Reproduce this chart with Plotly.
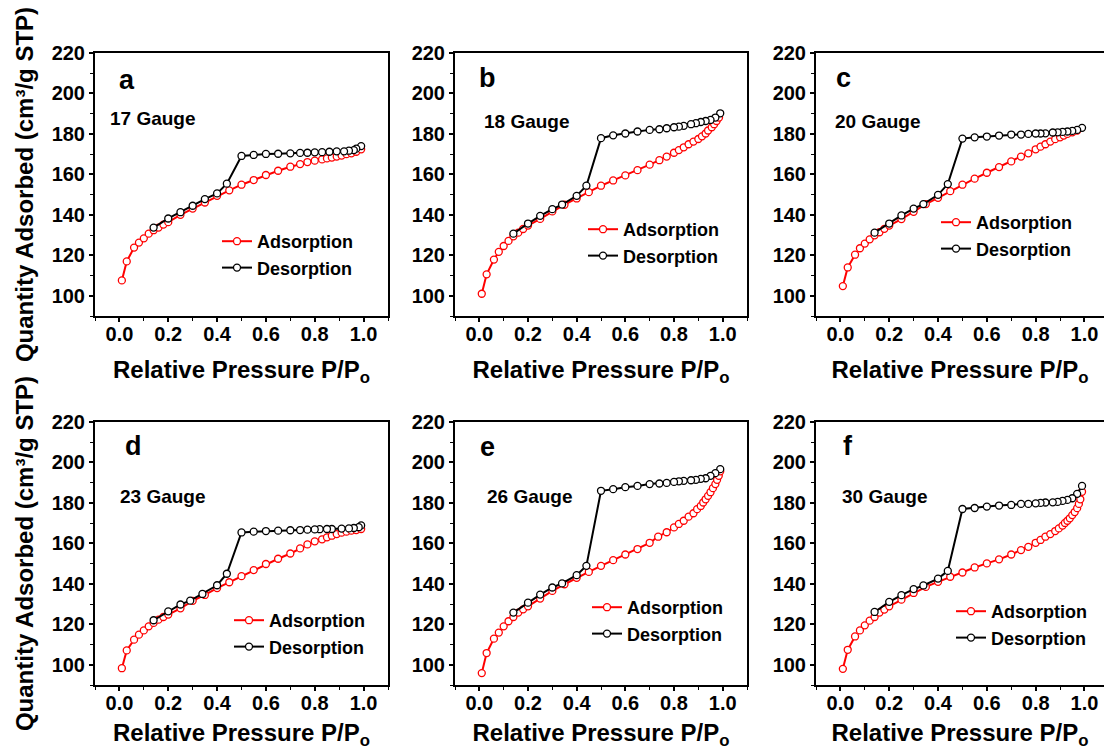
import plotly.graph_objects as go

# ---------------- data ----------------
panel_letters = ["a", "b", "c", "d", "e", "f"]
gauge_labels = ["17 Gauge", "18 Gauge", "20 Gauge", "23 Gauge", "26 Gauge", "30 Gauge"]
series_names = ["Adsorption", "Desorption"]

x_ticks = [0.0, 0.2, 0.4, 0.6, 0.8, 1.0]
y_ticks = [100, 120, 140, 160, 180, 200, 220]

ads_x_a = [0.01, 0.03, 0.06, 0.08, 0.10, 0.12, 0.14, 0.16, 0.18, 0.20, 0.25, 0.30, 0.35, 0.40, 0.45, 0.50,
           0.55, 0.60, 0.65, 0.70, 0.74, 0.77, 0.80, 0.83, 0.85, 0.87, 0.89, 0.91, 0.93, 0.95, 0.97, 0.99]
ads_y_a = [107.6, 117.0, 123.8, 126.3, 128.4, 130.7, 132.4, 133.7, 135.2, 136.4, 140.0, 143.1, 146.1, 149.4,
           152.1, 154.9, 157.2, 159.7, 161.8, 163.8, 165.1, 166.1, 166.8, 167.4, 167.9, 168.3, 168.8, 169.3,
           170.0, 170.4, 171.2, 172.4]
des_x_a = [0.99, 0.97, 0.96, 0.94, 0.92, 0.89, 0.86, 0.83, 0.80, 0.77, 0.74, 0.70, 0.65, 0.60, 0.55, 0.50,
           0.44, 0.40, 0.35, 0.30, 0.25, 0.20, 0.14]
des_y_a = [174.0, 172.7, 172.0, 171.7, 171.4, 171.4, 171.2, 171.0, 170.9, 170.7, 170.6, 170.4, 170.2, 170.1,
           169.6, 169.1, 155.4, 150.6, 147.8, 144.5, 141.3, 138.2, 133.7]

ads_x_b = [0.01, 0.03, 0.06, 0.08, 0.10, 0.12, 0.14, 0.16, 0.18, 0.20, 0.25, 0.30, 0.35, 0.40, 0.45, 0.50,
           0.55, 0.60, 0.65, 0.70, 0.74, 0.77, 0.80, 0.82, 0.84, 0.86, 0.88, 0.90, 0.915, 0.93, 0.94, 0.955,
           0.965, 0.975, 0.985]
ads_y_b = [101.0, 110.6, 117.9, 121.7, 124.6, 127.1, 129.4, 131.2, 133.0, 134.7, 138.0, 141.7, 145.0, 148.1,
           151.2, 154.4, 157.0, 159.5, 162.1, 164.8, 167.0, 168.8, 170.7, 172.0, 173.4, 174.9, 176.2, 177.5,
           178.8, 180.2, 181.7, 183.3, 184.8, 186.4, 188.1]
des_x_b = [0.99, 0.97, 0.95, 0.93, 0.91, 0.89, 0.87, 0.84, 0.82, 0.80, 0.77, 0.74, 0.70, 0.65, 0.60, 0.55,
           0.50, 0.44, 0.40, 0.34, 0.30, 0.25, 0.20, 0.14]
des_y_b = [190.2, 188.1, 186.9, 186.4, 185.9, 185.3, 184.8, 184.0, 183.6, 183.3, 182.8, 182.3, 182.0, 181.2,
           180.2, 179.3, 177.9, 154.4, 149.4, 145.1, 142.8, 139.5, 135.7, 130.7]

ads_x_c = [0.01, 0.03, 0.06, 0.08, 0.10, 0.12, 0.14, 0.16, 0.18, 0.20, 0.25, 0.30, 0.35, 0.40, 0.45, 0.50,
           0.55, 0.60, 0.65, 0.70, 0.74, 0.77, 0.80, 0.82, 0.84, 0.86, 0.88, 0.90, 0.915, 0.93, 0.95, 0.97]
ads_y_c = [104.8, 114.0, 120.3, 123.5, 125.8, 127.9, 129.9, 131.4, 133.1, 134.7, 137.9, 141.5, 145.3, 148.4,
           151.7, 154.9, 157.9, 160.8, 163.6, 166.4, 168.8, 170.4, 172.4, 173.7, 174.9, 176.2, 177.4, 178.3,
           179.2, 180.0, 180.8, 181.7]
des_x_c = [0.99, 0.97, 0.95, 0.93, 0.91, 0.89, 0.87, 0.84, 0.82, 0.80, 0.77, 0.74, 0.70, 0.65, 0.60, 0.55,
           0.50, 0.44, 0.40, 0.34, 0.30, 0.25, 0.20, 0.14]
des_y_c = [183.0, 182.0, 181.5, 181.2, 181.0, 180.8, 180.7, 180.3, 180.2, 180.2, 180.0, 179.7, 179.7, 179.2,
           178.7, 178.3, 177.7, 155.2, 149.9, 145.3, 143.1, 139.7, 135.7, 131.2]

ads_x_d = [0.01, 0.03, 0.06, 0.08, 0.10, 0.12, 0.14, 0.16, 0.18, 0.20, 0.25, 0.30, 0.35, 0.40, 0.45, 0.50,
           0.55, 0.60, 0.65, 0.70, 0.74, 0.77, 0.80, 0.83, 0.85, 0.87, 0.89, 0.91, 0.93, 0.95, 0.97, 0.99]
ads_y_d = [98.3, 107.1, 112.4, 114.9, 117.0, 119.0, 120.7, 122.3, 123.6, 124.8, 127.9, 131.6, 134.5, 137.9,
           140.8, 143.8, 146.8, 149.8, 152.4, 155.0, 157.5, 159.5, 161.0, 162.0, 163.0, 163.8, 164.6, 165.3,
           165.8, 166.3, 166.6, 167.1]
des_x_d = [0.99, 0.98, 0.96, 0.94, 0.91, 0.87, 0.85, 0.82, 0.80, 0.77, 0.74, 0.70, 0.65, 0.60, 0.55, 0.50,
           0.44, 0.40, 0.34, 0.29, 0.25, 0.20, 0.14]
des_y_d = [168.9, 168.0, 167.6, 167.4, 167.3, 167.1, 167.1, 167.0, 166.9, 166.8, 166.6, 166.5, 166.3, 166.1,
           165.8, 165.4, 145.0, 139.3, 135.0, 131.7, 129.8, 126.4, 122.0]

ads_x_e = [0.01, 0.03, 0.06, 0.08, 0.10, 0.12, 0.14, 0.16, 0.18, 0.20, 0.25, 0.30, 0.35, 0.40, 0.45, 0.50,
           0.55, 0.60, 0.65, 0.70, 0.735, 0.77, 0.80, 0.82, 0.84, 0.86, 0.88, 0.895, 0.91, 0.92, 0.93, 0.94,
           0.95, 0.96, 0.97, 0.977, 0.984, 0.99]
ads_y_e = [95.9, 105.8, 112.9, 115.9, 119.0, 121.5, 123.6, 125.8, 127.4, 128.9, 132.7, 136.5, 139.8, 143.0,
           145.9, 148.9, 151.7, 154.5, 157.2, 160.3, 163.3, 165.5, 167.9, 169.6, 171.2, 173.2, 174.9, 176.9,
           178.5, 180.2, 181.8, 183.5, 185.3, 187.3, 189.3, 191.4, 193.4, 195.6]
des_x_e = [0.99, 0.97, 0.95, 0.93, 0.91, 0.89, 0.87, 0.84, 0.82, 0.80, 0.77, 0.74, 0.70, 0.65, 0.60, 0.55,
           0.50, 0.44, 0.40, 0.34, 0.30, 0.25, 0.20, 0.14]
des_y_e = [196.7, 194.7, 193.4, 192.2, 191.9, 191.4, 191.2, 190.9, 190.7, 190.4, 189.9, 189.6, 189.3, 188.4,
           187.8, 186.8, 186.0, 148.9, 144.3, 140.2, 138.2, 134.7, 130.7, 125.8]

ads_x_f = [0.01, 0.03, 0.06, 0.08, 0.10, 0.12, 0.14, 0.16, 0.18, 0.20, 0.25, 0.30, 0.35, 0.40, 0.45, 0.50,
           0.55, 0.60, 0.65, 0.70, 0.74, 0.77, 0.80, 0.82, 0.84, 0.86, 0.88, 0.895, 0.91, 0.92, 0.93, 0.94,
           0.95, 0.96, 0.97, 0.977, 0.983, 0.99]
ads_y_f = [98.0, 107.4, 114.0, 117.0, 119.5, 121.8, 123.6, 125.8, 127.3, 128.9, 132.2, 135.5, 138.5, 141.0,
           143.5, 145.6, 148.1, 150.1, 152.1, 154.5, 156.7, 158.3, 160.3, 161.7, 163.3, 164.6, 166.1, 167.4,
           168.8, 170.1, 171.2, 172.4, 174.0, 175.5, 177.4, 179.5, 181.8, 185.5]
des_x_f = [0.99, 0.97, 0.95, 0.93, 0.91, 0.89, 0.87, 0.84, 0.82, 0.80, 0.77, 0.74, 0.70, 0.65, 0.60, 0.55,
           0.50, 0.44, 0.40, 0.34, 0.30, 0.25, 0.20, 0.14]
des_y_f = [188.4, 184.5, 182.3, 181.5, 181.0, 180.5, 180.3, 180.2, 180.0, 179.8, 179.5, 179.5, 179.0, 178.7,
           178.2, 177.5, 177.0, 146.4, 142.6, 139.2, 137.4, 134.4, 131.1, 126.1]

ADS_X = [ads_x_a, ads_x_b, ads_x_c, ads_x_d, ads_x_e, ads_x_f]
ADS_Y = [ads_y_a, ads_y_b, ads_y_c, ads_y_d, ads_y_e, ads_y_f]
DES_X = [des_x_a, des_x_b, des_x_c, des_x_d, des_x_e, des_x_f]
DES_Y = [des_y_a, des_y_b, des_y_c, des_y_d, des_y_e, des_y_f]

# ---------------- layout / style ----------------
W, H = 1104, 750
FONT = "Liberation Sans, Arial, Helvetica, sans-serif"

# panel frames in pixels: (left, right) per column, (top, bottom) per row
COL_PX = [(95, 388), (455, 747), (816, 1104)]
ROW_PX = [(53, 316), (422, 685)]
X_RANGES = [[-0.1, 1.1], [-0.1, 1.1], [-0.1, 1.08]]
Y_RANGE = [90, 220]

LETTER_POS = [(117, 80), (477, 78), (834, 78), (123, 446), (478, 447), (841, 446)]
GAUGE_POS = [(108, 118), (482, 122), (833, 121), (118, 497), (485, 497), (840, 497)]
LEGEND_POS = [(217, 223), (583, 211), (936, 204), (229, 602), (587, 589), (951, 593)]


def px_x(x):
    return x / W


def px_y(y):
    return 1 - y / H


fig = go.Figure()

tickfont = dict(family=FONT, size=20, color="black", weight="bold")
titlefont = dict(family=FONT, size=24, color="black", weight="bold")

for i in range(6):
    r, c = divmod(i, 3)
    n = i + 1
    xa = "x" if n == 1 else f"x{n}"
    ya = "y" if n == 1 else f"y{n}"
    lg = "legend" if n == 1 else f"legend{n}"
    fig.add_trace(go.Scatter(
        x=ADS_X[i], y=ADS_Y[i], mode="lines+markers", name=series_names[0],
        line=dict(color="#FF0000", width=2),
        marker=dict(symbol="circle", size=7, color="white", line=dict(color="#FF0000", width=1.3)),
        xaxis=xa, yaxis=ya, legend=lg, showlegend=True))
    fig.add_trace(go.Scatter(
        x=DES_X[i], y=DES_Y[i], mode="lines+markers", name=series_names[1],
        line=dict(color="black", width=2),
        marker=dict(symbol="circle", size=7, color="white", line=dict(color="black", width=1.3)),
        xaxis=xa, yaxis=ya, legend=lg, showlegend=True))

    l, rr = COL_PX[c]
    t, b = ROW_PX[r]
    xkey = "xaxis" if n == 1 else f"xaxis{n}"
    ykey = "yaxis" if n == 1 else f"yaxis{n}"
    fig.layout[xkey] = dict(
        domain=[px_x(l), px_x(rr)], range=X_RANGES[c], anchor=ya,
        showline=True, linecolor="black", linewidth=2, mirror=True,
        ticks="outside", ticklen=4, tickwidth=1.5, tickcolor="black",
        tickmode="array", tickvals=x_ticks, ticktext=[f"{v:.1f}" for v in x_ticks],
        tickfont=tickfont, ticklabelstandoff=-5,
        minor=dict(ticks="outside", ticklen=3, tickwidth=1.2, tickcolor="black", dtick=0.1, tick0=0),
        showgrid=False, zeroline=False, automargin=False,
        title=dict(text="Relative Pressure P/P<sub>o</sub>", font=titlefont, standoff=17),
    )
    ycfg = dict(
        domain=[px_y(b), px_y(t)], range=Y_RANGE, anchor=xa,
        showline=True, linecolor="black", linewidth=2, mirror=(c != 2),
        ticks="outside", ticklen=4, tickwidth=1.5, tickcolor="black",
        tickmode="array", tickvals=y_ticks, ticktext=[str(v) for v in y_ticks],
        tickfont=tickfont,
        minor=dict(ticks="outside", ticklen=3, tickwidth=1.2, tickcolor="black", dtick=10, tick0=0),
        showgrid=False, zeroline=False, automargin=False,
    )
    if c == 0:
        ycfg["title"] = dict(text="Quantity Adsorbed (cm³/g STP)", font=titlefont, standoff=11)
    fig.layout[ykey] = ycfg

    lx, ly = LEGEND_POS[i]
    fig.layout[lg] = dict(
        x=px_x(lx), y=px_y(ly), xanchor="left", yanchor="top",
        bgcolor="rgba(0,0,0,0)", borderwidth=0, tracegroupgap=0,
        font=dict(family=FONT, size=18, color="black", weight="bold"),
    )
    gx, gy = LETTER_POS[i]
    fig.add_annotation(x=px_x(gx), y=px_y(gy), xref="paper", yref="paper", xanchor="left", yanchor="middle",
                       text=panel_letters[i], showarrow=False,
                       font=dict(family=FONT, size=27, color="black", weight="bold"))
    gx, gy = GAUGE_POS[i]
    fig.add_annotation(x=px_x(gx), y=px_y(gy), xref="paper", yref="paper", xanchor="left", yanchor="middle",
                       text=gauge_labels[i], showarrow=False,
                       font=dict(family=FONT, size=19, color="black", weight="bold"))

fig.update_layout(
    width=W, height=H, margin=dict(l=0, r=0, t=0, b=0),
    paper_bgcolor="white", plot_bgcolor="white",
    font=dict(family=FONT, color="black"),
)

fig.write_html("out.html")
